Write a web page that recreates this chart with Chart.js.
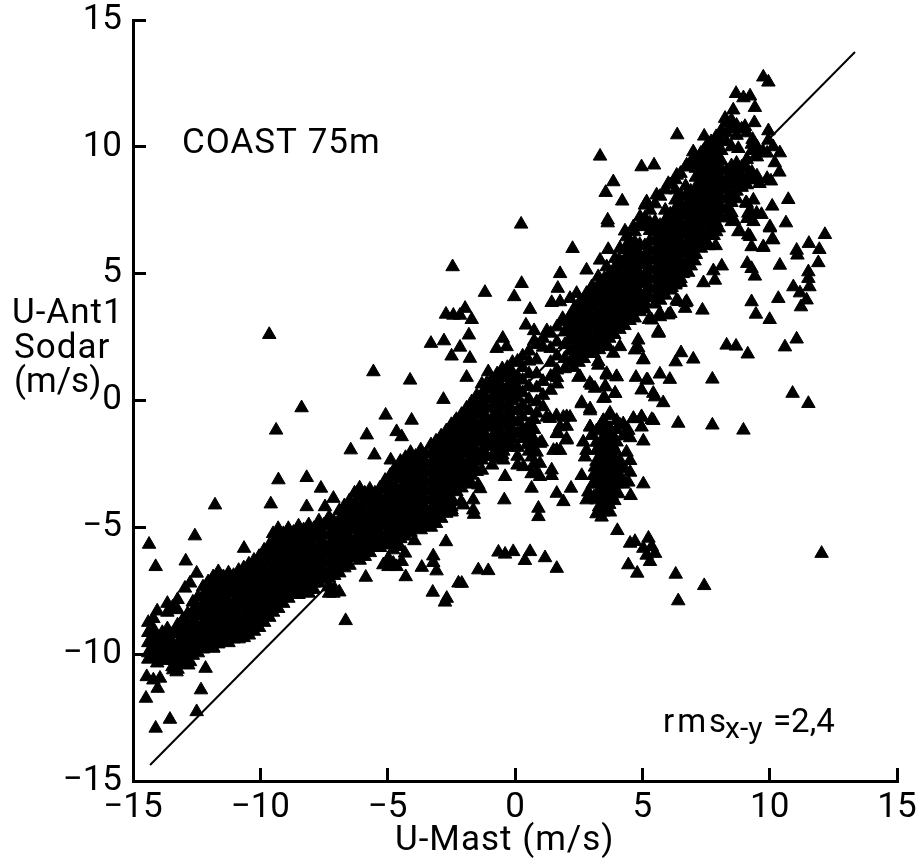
<!DOCTYPE html>
<html>
<head>
<meta charset="utf-8">
<title>U-Mast vs U-Ant1 Sodar</title>
<script src="https://cdn.jsdelivr.net/npm/chart.js@4/dist/chart.umd.min.js"></script>
<style>
  html, body { margin: 0; padding: 0; background: #fff; }
  canvas { display: block; }
</style>
</head>
<body>
<canvas id="scatter" width="923" height="860"></canvas>
<script>
// tick labels
var xTickLabels = ['−15', '−10', '−5', '0', '5', '10', '15']
var yTickLabels = ['−15', '−10', '−5', '0', '5', '10', '15']

// 1:1 line
var lineX = [-14.33, 13.35]
var lineY = [-14.37, 13.74]

// dense band, lower left: x followed by the y values read in that column
var bandLow = [
  [-14.4, [-8.75, -9.15, -9.55, -9.95, -10.2]],
  [-14.05, [-8.3, -9.3, -9.7, -10.05, -10.35]],
  [-13.65, [-8.0, -8.35, -9.0, -9.4, -9.8, -10.15]],
  [-13.25, [-7.85, -8.25, -8.85, -9.2, -9.6, -9.95, -10.3, -10.6]],
  [-12.85, [-8.4, -8.8, -9.15, -9.5, -9.85, -10.2]],
  [-12.45, [-7.75, -8.15, -8.5, -8.9, -9.25, -9.6, -9.95]],
  [-12.05, [-7.15, -7.5, -7.9, -8.25, -8.6, -9.0, -9.35, -9.7]],
  [-11.65, [-6.75, -7.1, -7.45, -7.8, -8.2, -8.55, -8.9, -9.25, -9.6]],
  [-11.25, [-6.8, -7.2, -7.55, -7.9, -8.3, -8.65, -9.0, -9.35, -9.55]],
  [-10.85, [-6.7, -7.05, -7.4, -7.75, -8.1, -8.45, -8.8, -9.15, -9.4]],
  [-10.45, [-6.45, -6.8, -7.2, -7.55, -7.9, -8.25, -8.6, -8.95, -9.25]],
  [-10.05, [-6.15, -6.5, -6.85, -7.2, -7.6, -7.95, -8.3, -8.65, -8.95]],
  [-9.65, [-5.7, -6.05, -6.4, -6.8, -7.15, -7.5, -7.85, -8.2, -8.55]],
  [-9.3, [-5.05, -5.4, -5.75, -6.15, -6.5, -6.85, -7.2, -7.55, -7.9, -8.2]],
  [-8.9, [-5.05, -5.4, -5.8, -6.15, -6.5, -6.85, -7.2, -7.55, -7.8]],
  [-8.5, [-4.95, -5.3, -5.65, -6.0, -6.4, -6.75, -7.1, -7.45, -7.65]],
  [-8.1, [-4.9, -5.25, -5.6, -5.95, -6.3, -6.65, -7.0, -7.35, -7.6]],
  [-7.7, [-4.75, -5.1, -5.45, -5.85, -6.2, -6.55, -6.9, -7.2]],
  [-7.3, [-4.6, -4.95, -5.3, -5.7, -6.05, -6.4, -6.75, -7.0, -7.35, -7.6]],
  [-6.9, [-4.35, -4.7, -5.1, -5.45, -5.8, -6.15, -6.5, -6.8, -7.55]],
  [-6.5, [-3.95, -4.3, -4.65, -5.0, -5.4, -5.75, -6.1, -6.5]],
  [-6.1, [-3.45, -3.8, -4.2, -4.55, -4.9, -5.25, -5.6, -5.95, -6.3]],
  [-5.7, [-3.5, -3.85, -4.25, -4.6, -4.95, -5.3, -5.65, -6.0]],
  [-5.3, [-3.45, -3.8, -4.15, -4.5, -4.9, -5.25, -5.6, -5.8]],
  [-4.9, [-2.95, -3.3, -3.65, -4.05, -4.4, -4.75, -5.1, -5.45, -5.65]],
  [-4.5, [-2.4, -2.75, -3.1, -3.5, -3.85, -4.2, -4.55, -4.9, -5.25, -5.45]],
  [-4.1, [-2.05, -2.45, -2.8, -3.15, -3.5, -3.9, -4.25, -4.6, -4.95, -5.2]],
  [-3.7, [-1.95, -2.3, -2.65, -3.05, -3.4, -3.75, -4.1, -4.45, -4.8, -5.1]],
  [-3.3, [-1.75, -2.1, -2.5, -2.85, -3.2, -3.55, -3.9, -4.3, -4.65, -5.0]],
  [-2.9, [-1.4, -1.75, -2.15, -2.5, -2.85, -3.2, -3.6, -3.95, -4.3, -4.65]],
  [-2.5, [-0.95, -1.3, -1.7, -2.05, -2.4, -2.75, -3.15, -3.5, -3.85, -4.2]],
  [-2.1, [-0.55, -0.9, -1.3, -1.65, -2.0, -2.4, -2.75, -3.1, -3.45]],
  [-1.7, [-0.05, -0.4, -0.8, -1.15, -1.5, -1.9, -2.25, -2.6, -2.95, -3.3]]
]

// same band, the columns that sit between the ones above
var bandLowFill = [
  [-14.2, [-8.6, -9.0, -9.4, -9.8, -10.15]],
  [-13.85, [-9.15, -9.55, -9.9, -10.25]],
  [-13.45, [-8.15, -9.2, -9.55, -9.9, -10.25, -10.5]],
  [-13.05, [-8.65, -9.0, -9.35, -9.75, -10.1, -10.4]],
  [-12.65, [-7.95, -8.3, -8.7, -9.05, -9.4, -9.75, -10.05]],
  [-12.25, [-7.35, -7.7, -8.05, -8.4, -8.8, -9.15, -9.5, -9.8]],
  [-11.85, [-6.95, -7.3, -7.7, -8.05, -8.4, -8.8, -9.15, -9.5, -9.75]],
  [-11.45, [-6.95, -7.35, -7.7, -8.05, -8.45, -8.8, -9.15, -9.5]],
  [-11.05, [-6.9, -7.25, -7.6, -8.0, -8.35, -8.7, -9.05, -9.4]],
  [-10.65, [-6.6, -6.95, -7.35, -7.7, -8.05, -8.4, -8.75, -9.1, -9.35]],
  [-10.25, [-6.3, -6.65, -7.05, -7.4, -7.75, -8.1, -8.45, -8.8, -9.1]],
  [-9.85, [-5.9, -6.3, -6.65, -7.0, -7.35, -7.75, -8.1, -8.45, -8.75]],
  [-9.5, [-5.25, -5.6, -5.95, -6.3, -6.65, -7.0, -7.4, -7.75, -8.1, -8.35]],
  [-9.1, [-5.25, -5.6, -6.0, -6.35, -6.7, -7.05, -7.4, -7.7, -8.0]],
  [-8.7, [-5.2, -5.55, -5.9, -6.25, -6.65, -7.0, -7.35, -7.65]],
  [-8.3, [-5.1, -5.45, -5.85, -6.2, -6.55, -6.9, -7.25, -7.55]],
  [-7.9, [-5.05, -5.4, -5.75, -6.1, -6.5, -6.85, -7.2, -7.45]],
  [-7.5, [-4.9, -5.3, -5.65, -6.0, -6.35, -6.7, -7.05]],
  [-7.1, [-4.8, -5.15, -5.5, -5.9, -6.25, -6.6, -6.9, -7.4]],
  [-6.7, [-4.15, -4.5, -4.9, -5.25, -5.6, -5.95, -6.3, -6.6]],
  [-6.3, [-3.65, -4.05, -4.4, -4.75, -5.1, -5.5, -5.85, -6.2]],
  [-5.9, [-3.65, -4.0, -4.4, -4.75, -5.1, -5.45, -5.8, -6.15]],
  [-5.5, [-3.65, -4.0, -4.35, -4.75, -5.1, -5.45, -5.8]],
  [-5.1, [-3.15, -3.5, -3.9, -4.25, -4.6, -4.95, -5.35, -5.7]],
  [-4.7, [-2.65, -3.0, -3.4, -3.75, -4.1, -4.45, -4.85, -5.2, -5.55]],
  [-4.3, [-2.25, -2.6, -2.95, -3.35, -3.7, -4.05, -4.4, -4.75, -5.1, -5.35]],
  [-3.9, [-2.2, -2.55, -2.95, -3.3, -3.65, -4.0, -4.4, -4.75, -5.05]],
  [-3.5, [-2.1, -2.45, -2.8, -3.2, -3.55, -3.9, -4.25, -4.6, -4.95]],
  [-3.1, [-1.6, -1.95, -2.3, -2.65, -3.05, -3.4, -3.75, -4.1, -4.45, -4.85]],
  [-2.7, [-1.2, -1.55, -1.9, -2.3, -2.65, -3.0, -3.35, -3.75, -4.1, -4.45]],
  [-2.3, [-0.75, -1.1, -1.5, -1.85, -2.2, -2.55, -2.95, -3.3, -3.6]],
  [-1.9, [-0.3, -0.65, -1.05, -1.4, -1.75, -2.1, -2.5, -2.85, -3.2]],
  [-1.5, [0.2, -0.2, -0.55, -0.95, -1.3, -1.65, -2.05, -2.4, -2.8]]
]

// dense band, upper right
var bandHigh = [
  [-1.3, [0.65, 0.25, -0.1, -0.5, -0.85, -1.25, -1.6, -2.0, -2.35, -2.75]],
  [-0.9, [0.85, 0.45, 0.1, -0.3, -0.7, -1.05, -1.45, -1.8, -2.2, -2.55]],
  [-0.5, [1.25, 0.9, 0.5, 0.1, -0.25, -0.65, -1.0, -1.4, -1.75, -2.15]],
  [-0.1, [1.5, 1.1, 0.75, 0.35, 0.0, -0.4, -0.75, -1.15, -1.5, -1.85]],
  [0.3, [1.75, 1.3, 0.8, 0.3, -0.2, -0.65, -1.1, -1.5]],
  [0.85, [2.2, 1.6, 1.05, 0.5, -0.05, -0.5]],
  [1.4, [2.65, 2.05, 1.5, 0.95, 0.4]],
  [1.95, [3.1, 2.7, 2.2, 1.65, 1.25]],
  [2.3, [3.55, 3.15, 2.8, 2.4, 2.05, 1.65, 1.3]],
  [2.7, [3.95, 3.55, 3.2, 2.8, 2.45, 2.05, 1.65]],
  [3.1, [4.4, 4.0, 3.65, 3.25, 2.9, 2.5, 2.15, 1.85]],
  [3.5, [4.8, 4.4, 4.05, 3.65, 3.3, 2.9, 2.55, 2.2]],
  [3.9, [5.2, 4.8, 4.45, 4.05, 3.7, 3.3, 2.95, 2.6]],
  [4.3, [5.95, 5.55, 5.2, 4.8, 4.45, 4.05, 3.7, 3.3, 2.95]],
  [4.7, [6.65, 6.25, 5.9, 5.5, 5.15, 4.75, 4.4, 4.0, 3.65, 3.25]],
  [5.1, [7.2, 6.85, 6.1, 5.7, 5.35, 4.95, 4.6, 4.2, 3.85, 3.6]],
  [5.5, [7.75, 7.05, 6.65, 6.3, 5.9, 5.55, 5.15, 4.8, 4.4, 4.05, 3.8]],
  [5.9, [8.3, 7.5, 7.1, 6.75, 6.35, 6.0, 5.6, 5.25, 4.85, 4.5, 4.15]],
  [6.3, [8.7, 8.3, 7.9, 7.55, 7.15, 6.8, 6.4, 6.05, 5.65, 5.3, 4.9, 4.55]],
  [6.7, [9.2, 8.45, 8.05, 7.65, 7.3, 6.9, 6.55, 6.15, 5.8, 5.4, 5.2]],
  [7.1, [9.55, 9.15, 8.8, 8.4, 8.05, 7.65, 7.3, 6.9, 6.55, 6.15, 5.75]],
  [7.5, [10.0, 9.6, 9.25, 8.85, 8.5, 8.1, 7.75, 7.35, 7.0, 6.6, 6.3]],
  [7.9, [10.4, 10.0, 9.65, 9.25, 8.9, 8.5, 8.15, 7.75, 7.4, 7.0, 6.65]],
  [8.3, [10.95, 10.55, 10.2, 9.05, 8.7, 8.3, 7.95, 7.55]],
  [8.7, [10.85, 10.45, 9.35, 9.0, 8.6, 8.25, 7.95]],
  [9.1, [10.55, 9.5, 9.15, 8.8, 8.5]],
  [9.5, [10.0, 9.6, 8.85]]
]

var bandHighFill = [
  [-1.1, [0.7, 0.45, 0.05, -0.3, -0.7, -1.05, -1.45, -1.8, -2.2]],
  [-0.7, [1.05, 0.65, 0.3, -0.1, -0.45, -0.85, -1.2, -1.6, -1.95, -2.3]],
  [-0.3, [1.3, 0.95, 0.55, 0.2, -0.2, -0.55, -0.95, -1.3, -1.7]],
  [0.1, [1.55, 0.95, 0.5, 0.1, -0.4, -0.85, -1.3, -1.85, -2.2, -2.55]],
  [0.55, [1.95, 1.55, 1.05, 0.55, 0.05, -0.4, -0.95, -1.35, -1.7, -2.0]],
  [0.75, [2.75, 2.35, -0.75, -1.15, -1.55, -1.9]],
  [1.1, [2.45, 2.1, 0.75, 0.2, -0.25]],
  [1.25, [2.75]],
  [1.65, [2.9, 2.3, 1.75, 1.2, 0.65, 0.9]],
  [2.15, [3.3, 2.95, 2.45, 1.95, 1.5]],
  [2.5, [3.75, 3.35, 3.0, 2.6, 2.25, 1.85, 1.5]],
  [2.9, [4.15, 3.8, 3.4, 3.05, 2.65, 2.3, 1.9]],
  [3.3, [4.6, 4.2, 3.85, 3.45, 3.1, 2.7, 2.35, 2.0]],
  [3.7, [5.0, 4.6, 4.25, 3.85, 3.5, 3.1, 2.75, 2.45]],
  [4.1, [5.55, 5.0, 4.65, 4.25, 3.9, 3.5, 3.15, 2.8]],
  [4.5, [6.3, 5.7, 5.35, 4.95, 4.6, 4.2, 3.85, 3.5, 3.15]],
  [4.9, [6.95, 6.15, 5.75, 5.4, 5.0, 4.65, 4.25, 3.9, 3.5]],
  [5.3, [7.5, 7.0, 6.7, 6.3, 5.95, 5.55, 5.2, 4.8, 4.45, 4.05]],
  [5.7, [8.05, 6.9, 6.5, 6.15, 5.75, 5.4, 5.0, 4.65, 4.25, 3.95]],
  [6.1, [8.5, 7.35, 6.95, 6.6, 6.2, 5.85, 5.45, 5.1, 4.7, 4.35]],
  [6.5, [8.95, 8.1, 7.75, 7.35, 7.0, 6.6, 6.25, 5.85, 5.5, 5.1, 4.8]],
  [6.9, [9.4, 8.25, 7.85, 7.5, 7.1, 6.75, 6.35, 6.0, 5.6]],
  [7.3, [9.75, 9.35, 9.0, 8.6, 8.25, 7.85, 7.5, 7.1, 6.75, 6.35, 6.0]],
  [7.7, [10.2, 9.8, 9.45, 9.05, 8.7, 8.3, 7.95, 7.55, 7.2, 6.8, 6.5]],
  [8.1, [10.65, 10.25, 9.85, 9.45, 9.1, 8.7, 8.35, 7.95, 7.6, 7.2]],
  [8.5, [11.05, 10.7, 10.0, 9.25, 8.85, 8.5, 8.1, 7.8]],
  [8.9, [10.7, 9.2, 8.8, 8.4]],
  [9.3, [9.85, 9.0, 8.7]]
]

// outer edges of the upper band
var bandEdge = [
  [4.38, 6.45], [4.65, 6.85], [4.91, 7.24], [5.1, 7.7], [5.56, 8.1], [6.02, 8.55], [6.35, 8.88],
  [6.74, 9.28], [4.12, 6.0], [3.93, 5.6], [3.6, 5.27], [3.27, 4.88], [3.01, 4.48], [2.81, 4.22],
  [2.55, 3.89], [2.29, 3.56], [1.87, 3.23], [4.5, 6.05], [4.15, 5.3], [3.75, 4.95], [3.45, 4.6],
  [3.15, 4.25], [2.75, 3.75], [2.45, 3.4], [6.9, 5.3], [6.6, 5.0], [6.3, 4.6], [7.05, 5.5],
  [6.8, 5.05], [6.5, 4.65], [6.15, 4.45], [8.3, 7.2], [8.0, 6.8], [8.5, 7.4], [8.6, 7.1],
  [7.8, 6.5], [7.6, 6.1], [9.9, 9.75], [9.5, 9.95], [9.3, 10.1], [9.75, 9.8], [9.2, 8.7],
  [9.6, 8.55], [9.9, 8.75]
]

// loose triangles around the band, upper right part
var outliersHigh = [
  [9.75, 12.75], [9.95, 12.55], [8.68, 12.1], [8.97, 11.93], [9.23, 12.0], [9.42, 11.55],
  [8.57, 11.45], [8.25, 11.12], [9.4, 10.95], [9.03, 10.8], [9.95, 10.63], [6.37, 10.47],
  [7.43, 10.42], [9.33, 10.29], [8.77, 9.93], [7.0, 9.8], [7.4, 9.84], [9.95, 10.26],
  [10.14, 10.0], [10.4, 9.76], [10.2, 9.37], [10.38, 9.0], [10.05, 8.65], [3.34, 9.63],
  [4.97, 9.21], [5.46, 9.28], [3.86, 8.62], [3.56, 8.2], [4.21, 7.86], [5.17, 7.83],
  [3.64, 7.11], [3.64, 7.0], [10.73, 7.92], [9.36, 7.9], [9.07, 7.79], [10.1, 7.66],
  [9.29, 7.37], [9.68, 7.33], [9.12, 7.17], [10.64, 7.0], [10.01, 6.8], [8.77, 6.65],
  [9.16, 6.52], [10.1, 6.35], [9.29, 6.06], [9.75, 6.03], [7.88, 6.1], [7.2, 6.15],
  [12.17, 6.54], [11.54, 6.19], [11.95, 5.95], [11.09, 5.73], [11.91, 5.43], [11.06, 5.92],
  [10.4, 5.33], [11.52, 5.07], [11.52, 4.81], [10.93, 4.48], [11.56, 4.48], [11.19, 4.24],
  [11.45, 3.96], [11.23, 3.69], [10.34, 4.02], [8.12, 5.3], [7.79, 5.11], [7.85, 4.74],
  [7.4, 4.64], [9.12, 5.4], [9.29, 5.2], [9.42, 4.9], [9.29, 3.89], [9.46, 3.4], [10.0, 3.19],
  [7.36, 3.56], [6.7, 3.85], [6.35, 3.95], [6.68, 3.63], [6.1, 3.43], [5.69, 3.3], [5.26, 3.19],
  [5.65, 2.67], [4.84, 2.38], [11.06, 2.42], [10.6, 2.11], [8.31, 2.18], [8.68, 2.14],
  [9.14, 1.83], [6.52, 1.88], [6.31, 1.52], [7.0, 1.63], [5.04, 1.62], [7.75, 0.84],
  [10.9, 0.28], [11.52, -0.12], [5.69, 1.04], [6.08, 0.83], [4.75, 0.91], [5.21, 0.8],
  [4.97, 0.41], [5.5, 0.14], [5.82, -0.09], [3.99, 0.93], [3.6, 1.06], [3.27, 1.39],
  [2.49, 0.91], [3.0, 0.6], [3.56, 0.54], [3.93, 0.28], [3.47, 0.08], [2.62, -0.08],
  [2.95, -0.41], [6.41, -0.9], [7.75, -0.97], [8.97, -1.17], [3.47, -0.8], [3.73, -0.5],
  [2.95, -1.04], [4.12, -0.97], [4.65, -0.71], [4.97, -0.64], [5.37, -0.75], [1.37, -0.71],
  [1.63, -0.6], [2.03, -0.64], [1.77, -1.04], [0.24, 6.95], [2.26, 5.99], [3.66, 5.95],
  [3.34, 5.53], [4.32, 6.68], [1.77, 5.0], [2.81, 5.14], [0.26, 4.61], [1.68, 4.42],
  [-1.18, 4.26], [-0.03, 4.09], [2.42, 4.22], [2.16, 4.02], [1.44, 3.86], [1.77, 3.89],
  [0.59, 3.59], [-1.96, 3.63], [-1.7, 3.19], [0.43, 2.97], [-1.81, 2.58], [-0.48, 2.45],
  [-0.72, 2.05], [-0.33, 2.12], [-2.16, 2.1], [-1.77, 1.66], [-1.9, 0.91], [-1.05, 1.13]
]

// second reading of the right edge of the band
var fringeRight = [
  [5.63, 2.71], [4.84, 2.07], [5.04, 1.6], [4.71, 1.99], [4.12, 2.12], [3.86, 1.86],
  [3.66, 2.12], [3.27, 1.53], [2.55, 0.94], [3.6, 1.0], [3.99, 0.94], [2.94, 0.68],
  [3.14, 0.48], [3.53, 0.54], [3.93, 0.28], [3.53, 0.09], [5.17, 0.81], [5.43, 0.28],
  [6.02, 3.37], [5.37, 3.17], [5.69, 3.44], [5.63, 2.65], [6.74, 3.9], [6.41, 3.9],
  [8.51, 7.05], [8.83, 6.66], [9.23, 6.46], [9.36, 7.05], [9.16, 7.38], [9.49, 7.38],
  [9.1, 7.77], [9.75, 6.06], [10.14, 6.33], [10.01, 6.85]
]

// loose triangles, left part
var outliersLeft = [
  [-9.65, 2.6], [-2.45, 5.27], [-2.71, 3.4], [-2.42, 3.36], [-2.16, 3.36], [-3.3, 2.25],
  [-2.79, 2.35], [-2.49, 1.75], [-5.56, 1.13], [-4.12, 0.8], [-2.81, 0.04], [-8.38, -0.29],
  [-5.08, -0.58], [-4.06, -0.78], [-2.36, -0.84], [-9.38, -1.17], [-5.82, -1.36], [-4.65, -1.23],
  [-4.45, -1.43], [-6.45, -1.95], [-5.52, -2.15], [-4.88, -2.35], [-9.29, -3.13], [-8.18, -3.04],
  [-7.62, -3.46], [-11.78, -4.12], [-9.59, -4.08], [-8.18, -4.19], [-7.13, -3.86], [-7.46, -4.19],
  [-12.57, -5.34], [-10.64, -5.83], [-14.37, -5.67], [-12.93, -6.33], [-14.11, -6.55], [-12.5, -6.81],
  [-12.76, -7.2], [-12.96, -7.4], [-6.65, -8.68], [-5.86, -6.97], [-4.29, -6.95], [-3.95, -5.53],
  [-2.71, -5.57], [-3.21, -6.13], [-3.21, -6.39], [-3.66, -6.58], [-3.08, -6.72], [-3.23, -7.56],
  [-2.68, -7.8], [-2.22, -7.2], [-4.97, -6.22], [-4.78, -6.42], [-5.17, -6.48], [-4.45, -6.35],
  [-4.97, -6.55], [-4.65, -6.55], [-4.78, -5.89], [-4.52, -5.76], [-4.32, -6.02], [-2.62, -3.99],
  [-2.49, -4.32], [-12.15, -10.56], [-12.33, -11.41], [-13.55, -12.57], [-14.11, -12.92], [-12.5, -12.27],
  [-14.46, -10.89], [-13.94, -10.95], [-14.2, -11.02], [-14.03, -11.35], [-14.49, -11.74], [-11.85, -9.77],
  [-12.83, -10.43], [-12.76, -10.3], [-13.42, -10.62], [-13.29, -10.7], [-7.13, -7.6], [-7.33, -7.34],
  [-2.75, -7.95], [-2.55, -3.94], [-2.12, -4.0], [-2.49, -4.4], [-1.37, -3.48], [-1.61, -4.49]
]

// loose triangles, lower right part
var outliersLow = [
  [12.04, -6.03], [7.43, -7.3], [6.31, -6.85], [6.41, -7.9], [4.02, -5.13], [4.52, -5.63],
  [4.71, -5.56], [5.24, -5.43], [5.04, -5.83], [5.37, -5.76], [5.3, -6.35], [5.5, -6.03],
  [5.17, -6.1], [4.45, -6.48], [4.8, -6.81], [-0.65, -5.98], [-0.39, -6.06], [-0.07, -5.96],
  [0.59, -5.96], [0.39, -6.31], [1.18, -6.2], [1.64, -6.62], [-1.44, -6.68], [-1.05, -6.71],
  [-2.09, -7.21], [-0.42, -3.92], [0.92, -4.25], [0.92, -4.58], [1.9, -3.99], [1.64, -3.66],
  [2.2, -3.46], [-0.39, -3.0], [0.33, -1.43], [0.98, -1.69], [1.64, -1.95], [2.03, -1.56],
  [1.64, -1.3], [0.46, -1.75], [0.33, -2.61], [0.72, -2.54], [0.98, -2.48], [1.44, -2.74],
  [0.85, -2.87], [0.65, -3.46], [0.98, -3.0], [-1.64, -3.92], [-1.64, -4.32], [-2.03, -4.12],
  [-1.44, -3.33], [-1.9, -3.2], [-0.46, -2.35], [-0.46, -2.0], [1.05, -1.64], [2.03, -1.51],
  [1.51, -1.97], [1.77, -1.97], [0.85, -2.04], [0.65, -2.23], [0.65, -2.89], [1.44, -2.96],
  [1.24, -0.66], [1.9, -0.66], [2.16, -0.66], [2.03, -1.02], [1.7, -1.31], [2.95, -0.33], [2.62, -0.13]
]

// the black heap under the band at x about 3 to 5
var heapLow = [
  [3.73, -0.59], [3.47, -0.79], [3.99, -0.79], [4.65, -0.72], [4.97, -0.66], [5.43, -0.79],
  [4.25, -0.92], [4.45, -1.18], [4.97, -1.05], [2.95, -1.05], [3.01, -1.38], [4.52, -1.47],
  [5.04, -1.6], [2.68, -1.64], [3.2, -1.2], [3.47, -1.05], [3.73, -1.1], [3.99, -1.15],
  [3.47, -1.45], [3.73, -1.64], [3.99, -1.64], [4.25, -1.4], [3.2, -1.65], [2.81, -1.97],
  [3.2, -1.97], [3.6, -1.97], [3.95, -1.98], [4.38, -2.04], [2.75, -2.23], [3.34, -2.3],
  [3.73, -2.3], [4.12, -2.37], [4.52, -2.37], [3.14, -2.63], [3.53, -2.63], [3.93, -2.63],
  [4.3, -2.68], [4.52, -2.83], [2.62, -2.96], [3.08, -2.96], [3.47, -2.96], [3.86, -2.96],
  [4.12, -2.96], [4.45, -3.22], [5.04, -3.29], [3.2, -3.29], [3.6, -3.29], [3.99, -3.29],
  [4.25, -3.3], [2.88, -3.61], [3.27, -3.61], [3.66, -3.61], [4.06, -3.68], [4.54, -3.75],
  [2.81, -3.92], [3.2, -3.92], [3.5, -3.9], [3.9, -3.95], [3.2, -4.47], [3.47, -4.4],
  [3.4, -4.6], [3.73, -4.4], [3.45, -4.15], [3.7, -4.1],
  [3.35, -1.0], [3.6, -1.25], [3.85, -1.4], [3.35, -1.75], [3.6, -1.6], [3.85, -1.8],
  [3.4, -2.05], [3.8, -2.1], [3.55, -2.2], [3.2, -2.4], [3.95, -2.4], [3.35, -2.6],
  [3.7, -2.55], [4.1, -2.6], [3.3, -2.85], [3.65, -2.8], [4.0, -2.85], [3.4, -3.1],
  [3.8, -3.1], [4.15, -3.15], [3.05, -3.3], [3.45, -3.4], [3.85, -3.45], [3.45, -3.7],
  [3.8, -3.75], [3.1, -3.8], [3.55, -4.25], [3.3, -4.2]
]

function columnsToPoints(columns){
  var points = []
  columns.forEach((col) => {
    col[1].forEach((y) => points.push({x: col[0], y: y}))
  })
  return points
}

function pairsToPoints(pairs){
  return pairs.map((p) => ({x: p[0], y: p[1]}))
}

var triangles = columnsToPoints(bandLow)
  .concat(columnsToPoints(bandLowFill))
  .concat(columnsToPoints(bandHigh))
  .concat(columnsToPoints(bandHighFill))
  .concat(pairsToPoints(bandEdge))
  .concat(pairsToPoints(outliersHigh))
  .concat(pairsToPoints(fringeRight))
  .concat(pairsToPoints(outliersLeft))
  .concat(pairsToPoints(outliersLow))
  .concat(pairsToPoints(heapLow))

var textFont = 'Roboto, sans-serif'

// axis titles and notes, written straight on the canvas
var notesPlugin = {
  id: 'notes',
  afterDraw(chart){
    var ctx = chart.ctx
    ctx.save()
    ctx.fillStyle = '#000'
    ctx.textBaseline = 'alphabetic'
    ctx.textAlign = 'left'
    ctx.font = '35px ' + textFont
    ctx.letterSpacing = '1px'
    ctx.fillText('COAST 75m', 182, 153)
    ctx.fillText('U-Mast (m/s)', 395, 850)
    ctx.fillText('U-Ant1', 12, 323)
    ctx.fillText('Sodar', 14, 358)
    ctx.letterSpacing = '0px'
    ctx.fillText('(m/s)', 14, 392)
    // rms x-y with its subscript
    ctx.font = '33px ' + textFont
    ctx.letterSpacing = '3px'
    ctx.fillText('rms', 663, 732)
    ctx.letterSpacing = '0px'
    ctx.fillText('=2,4', 773, 732)
    ctx.font = '30px ' + textFont
    ctx.fillText('x-y', 725, 738)
    ctx.restore()
  }
}

var scatterChart = new Chart(document.getElementById('scatter'), {
  type: 'scatter',
  data: {
    datasets: [
      {
        label: 'U-Ant1 Sodar',
        data: triangles,
        pointStyle: 'triangle',
        pointRadius: 7.8,
        pointBackgroundColor: '#000',
        pointBorderColor: '#000',
        pointBorderWidth: 1,
        order: 1
      },
      {
        label: '1:1',
        type: 'line',
        data: [{x: lineX[0], y: lineY[0]}, {x: lineX[1], y: lineY[1]}],
        borderColor: '#000',
        borderWidth: 2,
        pointRadius: 0,
        order: 2
      }
    ]
  },
  plugins: [notesPlugin],
  options: {
    responsive: false,
    animation: false,
    layout: {
      padding: {top: 20, right: 26, bottom: 0, left: 0}
    },
    plugins: {
      legend: {display: false},
      tooltip: {enabled: false}
    },
    scales: {
      x: {
        type: 'linear',
        min: -15,
        max: 15,
        afterFit(scale){
          scale.height = 79
          scale.paddingLeft = 0
          scale.paddingRight = 0
        },
        border: {color: '#000', width: 3},
        grid: {drawOnChartArea: false, color: '#000', tickLength: -13, tickWidth: 3},
        ticks: {
          stepSize: 5,
          autoSkip: false,
          maxRotation: 0,
          padding: 19,
          color: '#000',
          font: {family: textFont, size: 35},
          callback: (v) => xTickLabels[(v + 15) / 5]
        }
      },
      y: {
        type: 'linear',
        min: -15,
        max: 15,
        afterFit(scale){
          scale.width = 133
          scale.paddingTop = 0
          scale.paddingBottom = 0
        },
        border: {color: '#000', width: 3},
        grid: {drawOnChartArea: false, color: '#000', tickLength: -13, tickWidth: 3},
        ticks: {
          stepSize: 5,
          autoSkip: false,
          padding: 24,
          color: '#000',
          font: {family: textFont, size: 35},
          callback: (v) => yTickLabels[(v + 15) / 5]
        }
      }
    }
  }
})
</script>
</body>
</html>
